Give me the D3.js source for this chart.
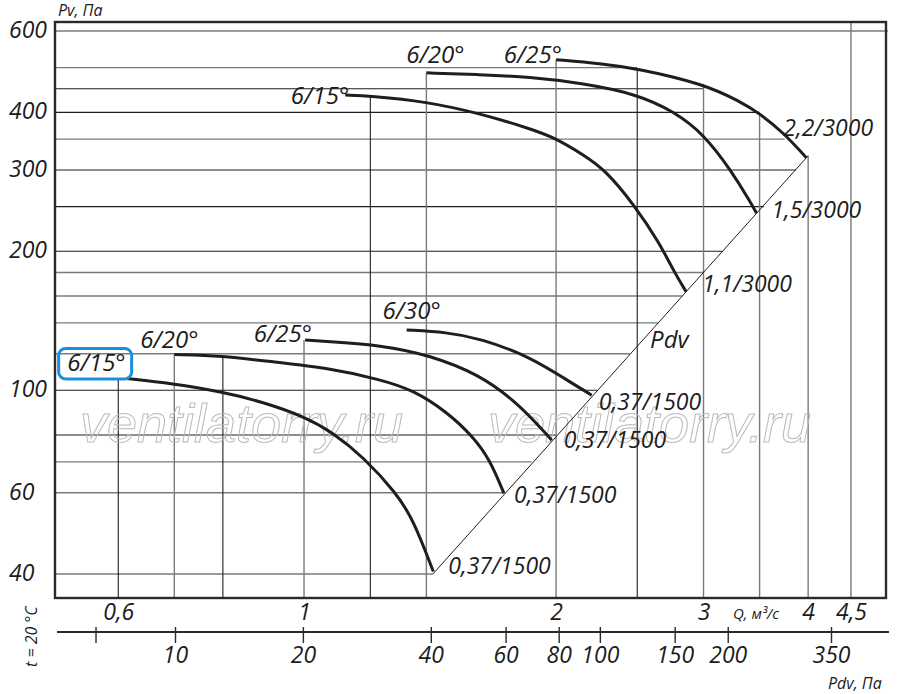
<!DOCTYPE html>
<html>
<head>
<meta charset="utf-8">
<script src="https://cdnjs.cloudflare.com/ajax/libs/d3/7.8.5/d3.min.js"></script>
<style>
  body { margin: 0; background: #fff; }
  svg text { font-family: "Open Sans", sans-serif; font-style: italic; fill: #1c1c1c; }
  .num { font-size: 23px; }
  .lbl { font-size: 24px; }
  .motor { font-size: 23px; }
  .small { font-size: 16px; }
  .wm { font-family: "Liberation Sans", Arial, sans-serif; font-size: 54px; fill: none; stroke: #b9b9b9; stroke-width: 1; }
</style>
</head>
<body>
<div id="container"></div>
<script>
/* DATA: Q in m3/s, Pv in Pa */
// 1500 rpm group
const low15 = [[0.614,106.1],[0.695,103.5],[0.798,99.3],[0.890,94.5],[1.003,87.6],[1.079,81.3],[1.177,71.8],[1.290,59.8],[1.351,52.4],[1.427,40.5]];
const low20 = [[0.700,119.6],[0.798,118.8],[0.915,115.3],[1.074,111.6],[1.232,105.6],[1.351,100.1],[1.480,89.9],[1.593,79.3],[1.668,70.6],[1.733,59.8]];
const low25 = [[1.003,128.5],[1.074,127.4],[1.232,125.3],[1.414,119.2],[1.623,107.9],[1.778,95.3],[1.896,84.8],[1.976,78.0]];
const low30 = [[1.326,135.1],[1.480,133.6],[1.623,129.6],[1.862,118.2],[2.059,105.3],[2.206,97.6]];
// 3000 rpm group
const high15 = [[1.12,436],[1.20,434],[1.40,422],[1.62,398],[1.86,369],[1.99,353],[2.16,323],[2.29,300],[2.48,252],[2.66,208],[2.76,182],[2.86,163.5]];
const high20 = [[1.40,487],[1.62,483],[1.86,477],[2.14,463],[2.50,438],[2.77,401],[3.00,359],[3.23,301],[3.43,252],[3.47,242]];
const high25 = [[2.00,520],[2.26,510],[2.50,498],[3.00,461],[3.32,422],[3.50,398],[3.74,361],[3.98,319]];

const curveNames = ["6/15°", "6/20°", "6/25°", "6/30°", "6/15°", "6/20°", "6/25°"];
const motorNames = ["0,37/1500", "0,37/1500", "0,37/1500", "0,37/1500", "1,1/3000", "1,5/3000", "2,2/3000"];

// dynamic pressure line
const pdvLine = [[1.425, 40], [4.0, 322]];

// grid
const hGridP = [600, 500, 450, 400, 350, 300, 250, 200, 180, 160, 140, 120, 100, 80, 70, 60, 40];
const hGridEndQ = [4.98, 2.5, 3.0, 3.5, 3.75, 3.87, 3.54, 3.16, 3.0, 2.83, 2.65, 2.45, 2.24, 2.0, 1.87, 1.73, 1.425];
const vGridQ = [0.6, 0.7, 0.8, 1.0, 1.2, 1.4, 2.0, 2.5, 3.0, 3.5, 4.0, 4.5];
const vGridTopP = [105.5, 119.6, 118.8, 128.5, 434, 487, 520, 498, 461, 398, 322, 627.6];

// ticks
const yTicks = [600, 400, 300, 200, 100, 60, 40];
const qTicks = [0.6, 1, 2, 3, 4, 4.5];
const qLabels = ["0,6", "1", "2", "3", "4", "4,5"];
const pdvTicks = [6.5, 10, 20, 40, 60, 80, 100, 150, 200, 350];
const pdvLabels = ["", "10", "20", "40", "60", "80", "100", "150", "200", "350"];

/* CONSTANTS AND GLOBALS */
const width = 900, height = 694;
const box = { left: 55, right: 886, top: 22, bottom: 598 };

const svg = d3.select("#container")
  .append("svg")
  .attr("width", width)
  .attr("height", height);

const x = d3.scaleLog().domain([0.5042, 4.955]).range([box.left, box.right]);
const y = d3.scaleLog().domain([35.5, 627.6]).range([box.bottom, box.top]);
const xPdv = d3.scaleLog().domain([10, 350]).range([175, 831]);

// grid lines, some drawn darker like in the print
const darkH = [450, 400, 300, 250, 200, 100, 80];
const darkV = [0.6, 0.8, 1.2, 2.5];

svg.append("g").selectAll("line")
  .data(hGridP)
  .join("line")
  .attr("x1", box.left)
  .attr("x2", (d, i) => x(hGridEndQ[i]))
  .attr("y1", d => y(d))
  .attr("y2", d => y(d))
  .attr("stroke", d => darkH.includes(d) ? "#1e1e1e" : "#7a7a7a")
  .attr("stroke-width", d => darkH.includes(d) ? 1.1 : 1.4);

svg.append("g").selectAll("line")
  .data(vGridQ)
  .join("line")
  .attr("x1", d => x(d))
  .attr("x2", d => x(d))
  .attr("y1", (d, i) => y(vGridTopP[i]))
  .attr("y2", box.bottom)
  .attr("stroke", d => darkV.includes(d) ? "#1e1e1e" : "#7a7a7a")
  .attr("stroke-width", d => darkV.includes(d) ? 1.1 : 1.4);

// watermark
svg.append("text").attr("class", "wm").attr("x", 80).attr("y", 442).text("ventilatorry.ru");
svg.append("text").attr("class", "wm").attr("x", 488).attr("y", 442).text("ventilatorry.ru");

// frame
svg.append("rect")
  .attr("x", box.left).attr("y", box.top)
  .attr("width", box.right - box.left).attr("height", box.bottom - box.top)
  .attr("fill", "none").attr("stroke", "#2a2a2a").attr("stroke-width", 2.4);

const line = d3.line()
  .x(d => x(d[0]))
  .y(d => y(d[1]));

// Pdv diagonal
svg.append("path")
  .datum(pdvLine)
  .attr("d", line)
  .attr("fill", "none")
  .attr("stroke", "#1e1e1e")
  .attr("stroke-width", 1);

// fan curves
const curves = [low15, low20, low25, low30, high15, high20, high25];
const smooth = d3.line()
  .x(d => x(d[0]))
  .y(d => y(d[1]))
  .curve(d3.curveBasis);

svg.append("g").selectAll("path")
  .data(curves)
  .join("path")
  .attr("d", smooth)
  .attr("fill", "none")
  .attr("stroke", "#1e1e1e")
  .attr("stroke-width", 3);

// blade angle labels at the start of each curve
const nameOffsets = [[-1, -7, "end"], [-5, -6, "middle"], [7, 2, "end"], [5, -11, "middle"],
                     [4, 9, "end"], [9, -10, "middle"], [6, 3, "end"]];
svg.append("g").selectAll("text")
  .data(curves)
  .join("text")
  .attr("class", "lbl")
  .attr("x", (d, i) => x(d[0][0]) + nameOffsets[i][0])
  .attr("y", (d, i) => y(d[0][1]) + nameOffsets[i][1])
  .attr("text-anchor", (d, i) => nameOffsets[i][2])
  .text((d, i) => curveNames[i]);

// highlight box around the first label
const first = low15[0];
svg.append("rect")
  .attr("x", x(first[0]) - 68).attr("y", y(first[1]) - 30)
  .attr("width", 73).attr("height", 30.5).attr("rx", 7)
  .attr("fill", "none").attr("stroke", "#1a90dc").attr("stroke-width", 3);

// motor labels at the end of each curve
const motorOffsets = [[15, 2], [10, 10], [12, 8], [7, 15], [16, 0], [15, 5], [-23, -22]];
svg.append("g").selectAll("text")
  .data(curves)
  .join("text")
  .attr("class", "motor")
  .attr("x", (d, i) => x(d[d.length - 1][0]) + motorOffsets[i][0])
  .attr("y", (d, i) => y(d[d.length - 1][1]) + motorOffsets[i][1])
  .text((d, i) => motorNames[i]);

svg.append("text").attr("class", "lbl")
  .attr("x", x(2.59)).attr("y", y(123.4))
  .text("Pdv");

// Y labels
svg.append("g").selectAll("text")
  .data(yTicks)
  .join("text")
  .attr("class", "num")
  .attr("x", 9)
  .attr("y", d => y(d) + 7)
  .text(d => d);

svg.append("text").attr("class", "small").attr("x", 58).attr("y", 16).text("Pv, Па");

// Q axis
const qAxis = svg.append("g")
  .attr("transform", `translate(0,${box.bottom})`)
  .call(d3.axisBottom(x).tickValues(qTicks).tickFormat((d, i) => qLabels[i]).tickSize(0));
qAxis.select(".domain").remove();
qAxis.selectAll(".tick text").attr("class", "num").attr("dy", null).attr("y", 22);

svg.append("text").attr("class", "small").style("font-size", "15px")
  .attr("x", 733).attr("y", 619).text("Q, м³/с");

// Pdv axis
svg.append("line")
  .attr("x1", 57).attr("x2", 889).attr("y1", 632).attr("y2", 632)
  .attr("stroke", "#2a2a2a").attr("stroke-width", 2.2);

const pAxis = svg.append("g")
  .attr("transform", "translate(0,632)")
  .call(d3.axisBottom(xPdv).tickValues(pdvTicks).tickFormat((d, i) => pdvLabels[i]).tickSize(11));
pAxis.select(".domain").remove();
pAxis.selectAll(".tick line").attr("y1", -5).attr("stroke", "#2a2a2a").attr("stroke-width", 1.4);
pAxis.selectAll(".tick text").attr("class", "num").attr("dy", null).attr("y", 31);

svg.append("text").attr("class", "small")
  .attr("x", 828).attr("y", 689).text("Pdv, Па");

svg.append("text").attr("class", "small")
  .attr("transform", "translate(37,667) rotate(-90)")
  .text("t = 20 °C");
</script>
</body>
</html>
